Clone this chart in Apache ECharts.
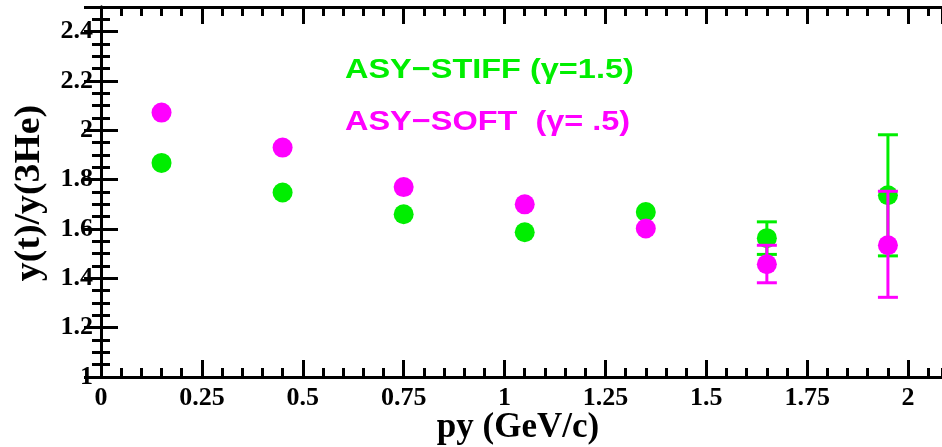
<!DOCTYPE html>
<html>
<head>
<meta charset="utf-8">
<script src="https://cdn.jsdelivr.net/npm/echarts@6/dist/echarts.min.js"></script>
<style>
  html, body { margin: 0; padding: 0; background: #fff; }
  #figure0 { width: 942px; height: 447px; }
</style>
</head>
<body>
<div id="figure0"></div>
<script>
// py bins (GeV/c) and ratios
var py = [0.15, 0.45, 0.75, 1.05, 1.35, 1.65, 1.95];
var stiffRatio = [1.868, 1.748, 1.660, 1.587, 1.669, 1.563, 1.737];
var softRatio = [2.072, 1.930, 1.770, 1.700, 1.602, 1.457, 1.534];
// error bars, only the last two bins have them
var errPy = [1.65, 1.95];
var stiffLow = [1.497, 1.491];
var stiffHigh = [1.629, 1.982];
var softLow = [1.382, 1.323];
var softHigh = [1.534, 1.753];

var green = '#00ee00';
var magenta = '#ff00ff';
var serif = '"Liberation Serif", "DejaVu Serif", serif';

var figure0 = echarts.init(document.getElementById('figure0'));

function pairs(xs, ys) {
    var out = [];
    for (var i = 0; i < xs.length; i++) { out.push([xs[i], ys[i]]); }
    return out;
}
function errData(xs, lo, hi) {
    var out = [];
    for (var i = 0; i < xs.length; i++) { out.push([xs[i], lo[i], hi[i]]); }
    return out;
}
function errBar(color) {
    return function (params, api) {
        var lo = api.coord([api.value(0), api.value(1)]);
        var hi = api.coord([api.value(0), api.value(2)]);
        var w = 10;
        var st = {stroke: color, lineWidth: 3};
        return {
            type: 'group',
            children: [
                {type: 'line', shape: {x1: lo[0], y1: lo[1], x2: hi[0], y2: hi[1]}, style: st},
                {type: 'line', shape: {x1: lo[0] - w, y1: lo[1], x2: lo[0] + w, y2: lo[1]}, style: st},
                {type: 'line', shape: {x1: hi[0] - w, y1: hi[1], x2: hi[0] + w, y2: hi[1]}, style: st}
            ]
        };
    };
}

var xMin = 0, xMax = 2.084, yMin = 1, yMax = 2.5;
var frame = {show: true, lineStyle: {color: '#000', width: 3}};
function majorX(pos, labels) {
    return {
        type: 'value', position: pos, min: xMin, max: xMax, interval: 0.25,
        axisLine: frame,
        axisTick: {show: true, inside: true, length: 17, lineStyle: {color: '#000', width: 3}},
        axisLabel: {show: labels, showMaxLabel: false, color: '#000', fontFamily: serif,
                    fontWeight: 'bold', fontSize: 26, margin: 8},
        splitLine: {show: false}
    };
}
function minorX(pos) {
    return {
        type: 'value', position: pos, min: xMin, max: xMax, interval: 0.05,
        axisLine: {show: false},
        axisTick: {show: true, inside: true, length: 9, lineStyle: {color: '#000', width: 3}},
        axisLabel: {show: false}, splitLine: {show: false}
    };
}
function majorY(pos, labels) {
    return {
        type: 'value', position: pos, min: yMin, max: yMax, interval: 0.2,
        axisLine: frame,
        axisTick: {show: true, inside: true, length: 17, lineStyle: {color: '#000', width: 3}},
        axisLabel: {show: labels, showMaxLabel: false, color: '#000', fontFamily: serif,
                    fontWeight: 'bold', fontSize: 26, margin: 8},
        splitLine: {show: false}
    };
}
function minorY(pos) {
    return {
        type: 'value', position: pos, min: yMin, max: yMax, interval: 0.05,
        axisLine: {show: false},
        axisTick: {show: true, inside: true, length: 9, lineStyle: {color: '#000', width: 3}},
        axisLabel: {show: false}, splitLine: {show: false}
    };
}

var option = {
    animation: false,
    backgroundColor: '#fff',
    grid: {left: 101, right: 0, top: 7, bottom: 70, containLabel: false},
    xAxis: [majorX('bottom', true), minorX('bottom'), majorX('top', false), minorX('top')],
    yAxis: [majorY('left', true), minorY('left'), majorY('right', false), minorY('right')],
    graphic: [
        {type: 'text', x: 30, y: 193, rotation: Math.PI / 2, scaleX: 1.08,
         style: {text: 'y(t)/y(3He)', font: 'bold 35px ' + serif, fill: '#000',
                 textAlign: 'center', textVerticalAlign: 'middle'}},
        {type: 'text', x: 518, y: 428,
         style: {text: 'py (GeV/c)', font: 'bold 35px ' + serif, fill: '#000',
                 textAlign: 'center', textVerticalAlign: 'middle'}},
        {type: 'text', x: 345, y: 70, scaleX: 1.16,
         style: {text: 'ASY\u2212STIFF (\u03b3=1.5)', font: 'bold 28px "Liberation Sans", sans-serif',
                 fill: green, textVerticalAlign: 'middle'}},
        {type: 'text', x: 345, y: 122, scaleX: 1.16,
         style: {text: 'ASY\u2212SOFT  (\u03b3= .5)', font: 'bold 28px "Liberation Sans", sans-serif',
                 fill: magenta, textVerticalAlign: 'middle'}}
    ],
    series: [
        {name: 'ASY-STIFF', type: 'scatter', data: pairs(py, stiffRatio), symbolSize: 20,
         itemStyle: {color: green, opacity: 1}, z: 2},
        {name: 'ASY-STIFF err', type: 'custom', data: errData(errPy, stiffLow, stiffHigh),
         renderItem: errBar(green), z: 3},
        {name: 'ASY-SOFT', type: 'scatter', data: pairs(py, softRatio), symbolSize: 20,
         itemStyle: {color: magenta, opacity: 1}, z: 4},
        {name: 'ASY-SOFT err', type: 'custom', data: errData(errPy, softLow, softHigh),
         renderItem: errBar(magenta), z: 5}
    ]
};
figure0.setOption(option);
</script>
</body>
</html>
